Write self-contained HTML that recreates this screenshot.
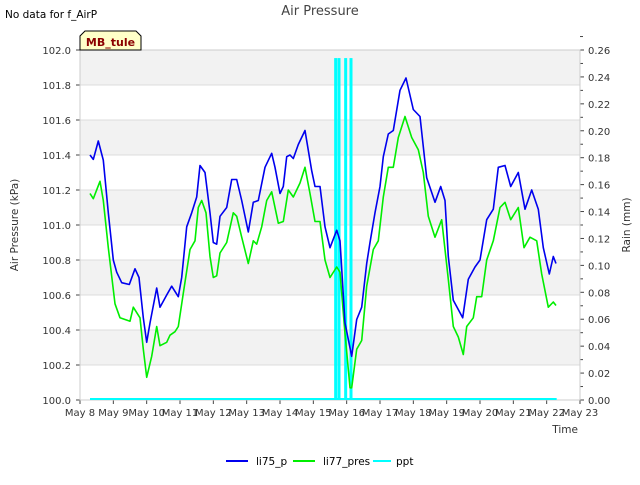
<!DOCTYPE html>
<html><head><meta charset="utf-8"><style>
body{margin:0;background:#fff;font-family:"Liberation Sans","DejaVu Sans",sans-serif}
svg text{font-family:"DejaVu Sans","Liberation Sans",sans-serif}
</style></head><body>
<svg id="chart" width="640" height="480" viewBox="0 0 640 480" xmlns="http://www.w3.org/2000/svg">
<rect x="0" y="0" width="640" height="480" fill="#fff"/>
<text x="5" y="18" font-size="10.5" fill="#000">No data for f_AirP</text>
<text x="320" y="15" font-size="13" fill="#444" text-anchor="middle">Air Pressure</text>
<g id="plot"></g>
<path d="M80,50 L80,36 L85,31 L136,31 L141,36 L141,50 Z" fill="#ffffc8" stroke="#000" stroke-width="1"/>
<text x="110.5" y="46" font-size="11" font-weight="bold" fill="#8b0000" text-anchor="middle">MB_tule</text>
<text transform="translate(18,225) rotate(-90)" font-size="10.5" fill="#333" text-anchor="middle">Air Pressure (kPa)</text>
<text transform="translate(630,225) rotate(-90)" font-size="10.5" fill="#333" text-anchor="middle">Rain (mm)</text>
<text x="578" y="433" font-size="10.5" fill="#333" text-anchor="end">Time</text>
<g>
<line x1="226" y1="461" x2="248" y2="461" stroke="#0000ee" stroke-width="2"/>
<text x="256" y="465" font-size="10.5" fill="#000">li75_p</text>
<line x1="293" y1="461" x2="315" y2="461" stroke="#00ee00" stroke-width="2"/>
<text x="323" y="465" font-size="10.5" fill="#000">li77_pres</text>
<line x1="373" y1="461" x2="391" y2="461" stroke="#00ffff" stroke-width="2"/>
<text x="396" y="465" font-size="10.5" fill="#000">ppt</text>
</g>
</svg>
<script>
const xTickLabels=["May 8","May 9","May 10","May 11","May 12","May 13","May 14","May 15","May 16","May 17","May 18","May 19","May 20","May 21","May 22","May 23"];
const yTicks=[100.0,100.2,100.4,100.6,100.8,101.0,101.2,101.4,101.6,101.8,102.0];
const y2Ticks=[0,0.02,0.04,0.06,0.08,0.10,0.12,0.14,0.16,0.18,0.20,0.22,0.24,0.26];
const bluePts=[[0.3,101.40],[0.4,101.375],[0.55,101.48],[0.7,101.37],[0.85,101.07],[1.0,100.80],[1.1,100.73],[1.25,100.67],[1.48,100.66],[1.65,100.75],[1.77,100.70],[1.9,100.47],[2.0,100.33],[2.1,100.44],[2.3,100.64],[2.4,100.53],[2.6,100.60],[2.75,100.65],[2.95,100.59],[3.05,100.70],[3.2,100.99],[3.35,101.07],[3.5,101.16],[3.6,101.34],[3.75,101.30],[3.9,101.07],[4.0,100.90],[4.1,100.89],[4.2,101.05],[4.4,101.10],[4.55,101.26],[4.7,101.26],[4.85,101.14],[5.05,100.96],[5.2,101.13],[5.35,101.14],[5.55,101.33],[5.75,101.41],[5.85,101.33],[6.0,101.18],[6.1,101.22],[6.2,101.39],[6.3,101.40],[6.4,101.38],[6.55,101.46],[6.75,101.54],[6.95,101.31],[7.05,101.22],[7.2,101.22],[7.35,100.99],[7.5,100.87],[7.7,100.97],[7.8,100.91],[7.95,100.44],[8.15,100.25],[8.3,100.46],[8.45,100.53],[8.6,100.78],[8.7,100.90],[8.85,101.07],[9.0,101.22],[9.1,101.39],[9.25,101.52],[9.4,101.54],[9.6,101.77],[9.78,101.84],[10.0,101.66],[10.2,101.62],[10.4,101.27],[10.65,101.13],[10.82,101.22],[10.95,101.14],[11.05,100.82],[11.2,100.57],[11.48,100.47],[11.65,100.69],[11.85,100.76],[12.0,100.80],[12.2,101.03],[12.4,101.09],[12.55,101.33],[12.75,101.34],[12.92,101.22],[13.15,101.30],[13.35,101.09],[13.55,101.20],[13.75,101.09],[13.9,100.87],[14.08,100.72],[14.2,100.82],[14.28,100.78]];
const greenPts=[[0.3,101.18],[0.4,101.15],[0.6,101.25],[0.7,101.14],[0.85,100.87],[1.05,100.55],[1.2,100.47],[1.35,100.46],[1.5,100.45],[1.6,100.53],[1.8,100.47],[1.9,100.29],[2.0,100.13],[2.15,100.25],[2.3,100.42],[2.4,100.31],[2.6,100.33],[2.7,100.37],[2.85,100.39],[2.95,100.42],[3.1,100.61],[3.3,100.86],[3.45,100.91],[3.55,101.10],[3.65,101.14],[3.78,101.07],[3.9,100.82],[4.0,100.70],[4.1,100.71],[4.2,100.84],[4.4,100.90],[4.6,101.07],[4.7,101.05],[4.85,100.93],[5.05,100.78],[5.2,100.91],[5.3,100.89],[5.45,100.99],[5.6,101.14],[5.75,101.19],[5.95,101.01],[6.1,101.02],[6.25,101.20],[6.4,101.16],[6.6,101.24],[6.75,101.33],[6.9,101.18],[7.05,101.02],[7.2,101.02],[7.35,100.80],[7.5,100.70],[7.7,100.76],[7.8,100.73],[7.95,100.38],[8.1,100.07],[8.15,100.07],[8.3,100.29],[8.45,100.34],[8.6,100.65],[8.8,100.86],[8.95,100.91],[9.1,101.16],[9.25,101.33],[9.4,101.33],[9.55,101.50],[9.75,101.62],[9.95,101.50],[10.15,101.43],[10.3,101.30],[10.45,101.05],[10.65,100.93],[10.85,101.03],[11.05,100.69],[11.2,100.42],[11.35,100.36],[11.5,100.26],[11.6,100.42],[11.8,100.47],[11.9,100.59],[12.05,100.59],[12.2,100.80],[12.4,100.91],[12.6,101.10],[12.75,101.13],[12.92,101.03],[13.15,101.10],[13.32,100.87],[13.5,100.93],[13.7,100.91],[13.85,100.72],[14.05,100.53],[14.2,100.56],[14.28,100.54]];
const rainTimes=[7.67,7.77,7.97,8.13];
const rainValues=[0.254,0.254,0.254,0.254];
const rainRange=[0.3,14.3];

const NS="http://www.w3.org/2000/svg";
const X0=80,X1=580,Y0=50,Y1=400;
function xs(t){return X0+(X1-X0)*t/15;}
function ys(v){return Y1-(v-100)/2*(Y1-Y0);}
function y2s(v){return Y1-v/0.26*(Y1-Y0);}
const plot=document.getElementById('plot');
function mk(tag,attrs,parent){const e=document.createElementNS(NS,tag);for(const k in attrs)e.setAttribute(k,attrs[k]);(parent||plot).appendChild(e);return e;}

// bands
for(let i=0;i<yTicks.length-1;i+=2){
  const b=mk('rect',{x:X0,y:ys(yTicks[i+2]||102),width:X1-X0,height:ys(yTicks[i+1])-ys(yTicks[i+2]||102),fill:'#f2f2f2'});
  
  
}
yTicks.forEach(v=>{
  const l=mk('line',{x1:X0,x2:X1,y1:ys(v),y2:ys(v),stroke:'#dcdcdc','stroke-width':1});
  
  
  const tk=mk('line',{x1:X0-4,x2:X0,y1:ys(v),y2:ys(v),stroke:'#444'});
  
  
  const t=mk('text',{x:X0-9,y:ys(v)+4,'font-size':10,fill:'#333','text-anchor':'end'});
  t.textContent=v.toFixed(1);
  
  
});
y2Ticks.forEach(v=>{
  const tk=mk('line',{x1:X1,x2:X1+4,y1:y2s(v),y2:y2s(v),stroke:'#444'});
  
  
  const m=mk('line',{x1:X1,x2:X1+3,y1:y2s(v+0.01),y2:y2s(v+0.01),stroke:'#444'});
  
  
  const t=mk('text',{x:X1+8,y:y2s(v)+4,'font-size':10,fill:'#333'});
  t.textContent=v.toFixed(2);
  
  
});
xTickLabels.forEach((s,i)=>{
  const tk=mk('line',{x1:xs(i),x2:xs(i),y1:Y1,y2:Y1+4,stroke:'#444'});
  
  
  const t=mk('text',{x:xs(i),y:Y1+16,'font-size':10,fill:'#333','text-anchor':'middle'});
  t.textContent=s;
  
  
});
const frame=mk('rect',{x:X0,y:Y0,width:X1-X0,height:Y1-Y0,fill:'none',stroke:'#ccc'});



const base=mk('line',{x1:xs(rainRange[0]),x2:xs(rainRange[1]),y1:y2s(0)-1,y2:y2s(0)-1,stroke:'#00ffff','stroke-width':2});


rainTimes.forEach((t,i)=>{
  const r=mk('rect',{x:xs(t)-1.5,y:y2s(rainValues[i]),width:3,height:y2s(0)-y2s(rainValues[i]),fill:'#00ffff'});
  
  
});
function line(pts,color,name){
  const p=mk('polyline',{points:pts.map(d=>xs(d[0]).toFixed(1)+','+ys(d[1]).toFixed(1)).join(' '),fill:'none',stroke:color,'stroke-width':1.6,'stroke-linejoin':'round'});
  
  
}
line(greenPts,'#00ee00','li77-pres-line');
line(bluePts,'#0000ee','li75-p-line');
</script>
</body></html>
